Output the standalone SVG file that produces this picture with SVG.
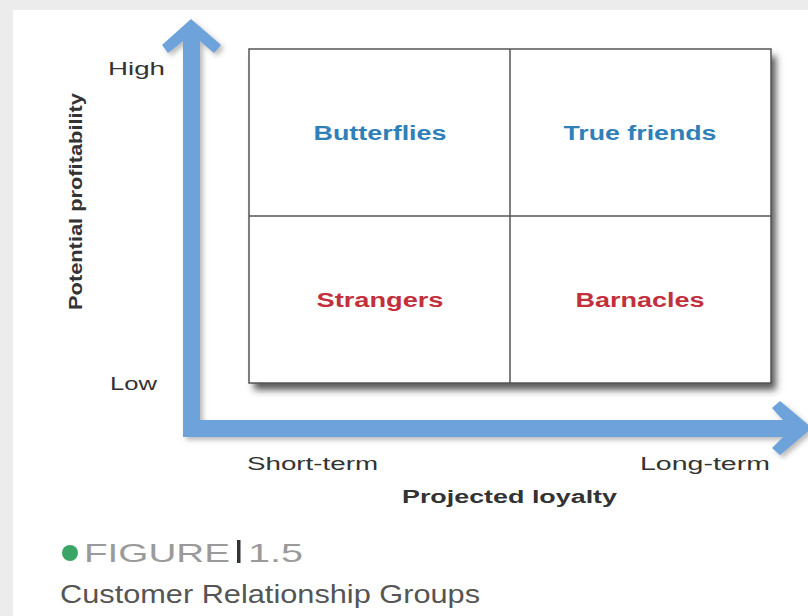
<svg xmlns="http://www.w3.org/2000/svg" width="808" height="616" viewBox="0 0 808 616">
<defs>
<filter id="sh" x="-10%" y="-10%" width="130%" height="130%">
<feDropShadow dx="5" dy="7" stdDeviation="3.5" flood-color="#333" flood-opacity="0.8"/>
</filter>
<filter id="ash" x="-10%" y="-10%" width="130%" height="130%">
<feDropShadow dx="3" dy="3" stdDeviation="2.5" flood-color="#777" flood-opacity="0.5"/>
</filter>
</defs>
<style>
text{font-family:"Liberation Sans",Arial,sans-serif}
.ax{font-size:18px;fill:#333}
.q{font-size:20px;font-weight:bold;text-anchor:middle}
.blue{fill:#2f80b8}
.red{fill:#c2303c}
.cell{fill:#fff;stroke:#555;stroke-width:1.5}
.arrow{fill:#6ea2da}
</style>
<rect x="0" y="0" width="808" height="616" fill="#ececec"/>
<rect x="13" y="10" width="795" height="606" fill="#fff"/>

<g id="connectors" filter="url(#ash)">
<polygon class="arrow" points="168,53 162,45 191,19 221,45 214,53 200,41 200,420 783,420 772,408 780,401 812,428 780,455 772,448 783,437 183,437 183,41"/>
</g>

<g id="grid">
<rect x="249" y="49" width="522" height="334" fill="#fff" filter="url(#sh)"/>
<rect class="cell" x="249" y="49" width="522" height="334"/>
<line x1="510" y1="49" x2="510" y2="383" stroke="#555" stroke-width="1.5"/>
<line x1="249" y1="216" x2="771" y2="216" stroke="#555" stroke-width="1.5"/>
</g>

<g id="butterflies"><text class="q blue" x="380" y="140" textLength="133" lengthAdjust="spacingAndGlyphs">Butterflies</text></g>
<g id="true-friends"><text class="q blue" x="640" y="140" textLength="153" lengthAdjust="spacingAndGlyphs">True friends</text></g>
<g id="strangers"><text class="q red" x="380" y="307" textLength="127" lengthAdjust="spacingAndGlyphs">Strangers</text></g>
<g id="barnacles"><text class="q red" x="640" y="307" textLength="129" lengthAdjust="spacingAndGlyphs">Barnacles</text></g>

<g id="labels">
<text class="ax" x="108" y="75" textLength="57" lengthAdjust="spacingAndGlyphs">High</text>
<text class="ax" x="110" y="390" textLength="47" lengthAdjust="spacingAndGlyphs">Low</text>
<text class="ax" transform="translate(82,310) rotate(-90)" x="0" y="0" font-size="17" font-weight="bold" textLength="217" lengthAdjust="spacingAndGlyphs">Potential profitability</text>
<text class="ax" x="247" y="470" textLength="131" lengthAdjust="spacingAndGlyphs">Short-term</text>
<text class="ax" x="640" y="470" textLength="130" lengthAdjust="spacingAndGlyphs">Long-term</text>
<text class="ax" x="402" y="503" font-weight="bold" textLength="215" lengthAdjust="spacingAndGlyphs">Projected loyalty</text>
</g>

<g id="caption">
<circle cx="70" cy="553" r="8" fill="#3aa564"/>
<text x="84" y="562" font-size="25" fill="#9a9a9a" textLength="146" lengthAdjust="spacingAndGlyphs">FIGURE</text>
<rect x="237" y="540" width="3.5" height="23" fill="#333"/>
<text x="248" y="562" font-size="25" fill="#9a9a9a" textLength="55" lengthAdjust="spacingAndGlyphs">1.5</text>
<text x="60" y="603" font-size="25" fill="#555" textLength="420" lengthAdjust="spacingAndGlyphs">Customer Relationship Groups</text>
</g>
</svg>
